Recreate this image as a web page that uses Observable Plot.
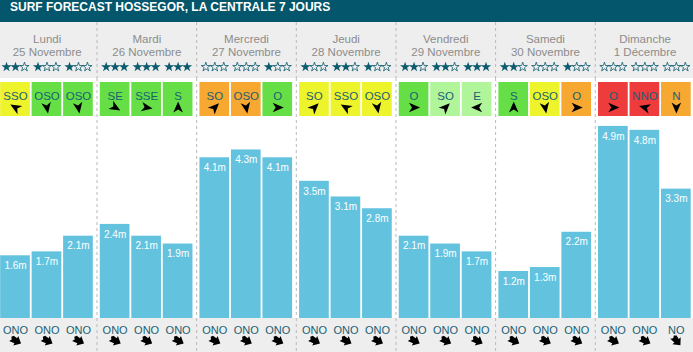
<!DOCTYPE html>
<html>
<head>
<meta charset="utf-8">
<script src="https://cdn.jsdelivr.net/npm/d3@7"></script>
<script src="https://cdn.jsdelivr.net/npm/@observablehq/plot@0.6"></script>
<style>
  html, body { margin: 0; padding: 0; background: #eeeeee; }
  #title { height: 22px; line-height: 22px; background: #03566b; color: #fff;
           font: bold 12px "Liberation Sans", Arial, sans-serif; padding-left: 10px; box-sizing: border-box; width: 693px; }
  #chart svg { display: block; }
</style>
</head>
<body>
<div id="title">SURF FORECAST HOSSEGOR, LA CENTRALE 7 JOURS</div>
<div id="chart"></div>
<script>
// ---- data ----
const days = ["Lundi", "Mardi", "Mercredi", "Jeudi", "Vendredi", "Samedi", "Dimanche"];
const dates = ["25 Novembre", "26 Novembre", "27 Novembre", "28 Novembre", "29 Novembre", "30 Novembre", "1 Décembre"];
const waveHeights = [1.6, 1.7, 2.1, 2.4, 2.1, 1.9, 4.1, 4.3, 4.1, 3.5, 3.1, 2.8, 2.1, 1.9, 1.7, 1.2, 1.3, 2.2, 4.9, 4.8, 3.3];
const starRatings = [2, 1, 1, 3, 3, 3, 0, 0, 1, 1, 2, 1, 2, 2, 3, 2, 0, 1, 0, 0, 0];
const windDirs = ["SSO", "OSO", "OSO", "SE", "SSE", "S", "SO", "OSO", "O", "SO", "SSO", "OSO", "O", "SO", "E", "S", "OSO", "O", "O", "NNO", "N"];
const windArrowAngles = [300, 170, 170, 120, 100, 0, 45, 170, 90, 45, 300, 170, 90, 45, 270, 0, 170, 90, 90, 285, 180];
const windQuality = ["moyen", "bon", "bon", "bon", "bon", "bon", "mauvais", "mauvais", "bon", "moyen", "moyen", "moyen", "bon", "excellent", "excellent", "bon", "moyen", "mauvais", "très mauvais", "très mauvais", "mauvais"];
const qualityLevels = ["excellent", "bon", "moyen", "mauvais", "très mauvais"];
const qualityColors = ["#b1f59b", "#66df46", "#eef42b", "#f6a831", "#ee3b3b"];
const swellDirs = ["ONO", "ONO", "ONO", "ONO", "ONO", "ONO", "ONO", "ONO", "ONO", "ONO", "ONO", "ONO", "ONO", "ONO", "ONO", "ONO", "ONO", "ONO", "ONO", "ONO", "NO"];
const swellArrowAngles = [118, 118, 118, 118, 118, 118, 118, 118, 118, 118, 118, 118, 118, 118, 118, 118, 118, 118, 118, 118, 140];

// ---- layout helpers (in day units) ----
const PAD = 0.033, STEP = 0.316, BARW = 0.298, STAR_STEP = 0.09;
const slots = waveHeights.map((h, i) => {
  const day = Math.floor(i / 3), k = i % 3;
  const x1 = day + PAD + k * STEP;
  return {i, day, k, h, x1, x2: x1 + BARW, xc: x1 + BARW / 2,
    rating: starRatings[i],
    wind: windDirs[i], windAngle: windArrowAngles[i], quality: windQuality[i],
    swell: swellDirs[i], swellAngle: swellArrowAngles[i]};
});
const starItems = slots.flatMap(s => [0, 1, 2].map(j => ({x: s.xc + (j - 1) * STAR_STEP, filled: j < s.rating})));
const dividers = d3.range(1, days.length);
const dayIdx = d3.range(days.length);

const xScale = {type: "linear", domain: [0, 7], range: [-3.15, 694.4], axis: null};
const font = '"Liberation Sans", Arial, Helvetica, sans-serif';
const teal = "#0b5a6e";
const rule = () => Plot.ruleX(dividers, {stroke: "#b9b9b9", strokeDasharray: "3,3"});

const navArrow = {draw(ctx, size) {
  const r = Math.sqrt(size / Math.PI);
  ctx.moveTo(0, -r); ctx.lineTo(0.8 * r, 0.85 * r); ctx.lineTo(0, 0.35 * r); ctx.lineTo(-0.8 * r, 0.85 * r); ctx.closePath();
}};
const swellArrow = {draw(ctx, size) {
  const r = Math.sqrt(size / Math.PI);
  ctx.moveTo(0, -r); ctx.lineTo(0.85 * r, -0.05 * r); ctx.lineTo(0.45 * r, -0.05 * r);
  ctx.lineTo(0.55 * r, 0.85 * r); ctx.lineTo(0.15 * r, 0.6 * r); ctx.lineTo(-0.2 * r, 0.85 * r);
  ctx.lineTo(-0.55 * r, 0.6 * r); ctx.lineTo(-0.45 * r, -0.05 * r); ctx.lineTo(-0.85 * r, -0.05 * r); ctx.closePath();
}};

const common = {width: 693, marginTop: 0, marginBottom: 0, marginLeft: 0, marginRight: 0, x: xScale};

// header: days, dates, stars
const header = Plot.plot({
  ...common, height: 56,
  style: {background: "#eeeeee", fontFamily: font, overflow: "visible"},
  marks: [
    rule(),
    Plot.text(dayIdx, {x: i => i + 0.5, text: i => days[i], frameAnchor: "top", dy: 12, fill: "#8c8c8c", fontSize: 11.5}),
    Plot.text(dayIdx, {x: i => i + 0.5, text: i => dates[i], frameAnchor: "top", dy: 25, fill: "#8c8c8c", fontSize: 11.5}),
    Plot.dot(starItems.filter(s => s.filled), {x: "x", frameAnchor: "top", dy: 44.5, symbol: "star", r: 3.2, fill: teal, stroke: "none"}),
    Plot.dot(starItems.filter(s => !s.filled), {x: "x", frameAnchor: "top", dy: 44.5, symbol: "star", r: 2.9, fill: "none", stroke: teal, strokeWidth: 0.8})
  ]
});

// wind row
const wind = Plot.plot({
  ...common, height: 42,
  style: {background: "#ffffff", fontFamily: font, overflow: "visible"},
  color: {domain: qualityLevels, range: qualityColors},
  marks: [
    rule(),
    Plot.rect(slots, {x1: "x1", x2: "x2", fill: "quality", insetTop: 4, insetBottom: 4}),
    Plot.text(slots, {x: "xc", text: "wind", frameAnchor: "top", dy: 13, fill: "#1a5f73", fontSize: 11.5}),
    Plot.dot(slots, {x: "xc", frameAnchor: "top", dy: 29, symbol: navArrow, r: 6, rotate: "windAngle", fill: "#000", stroke: "none"})
  ]
});

// bars
const bars = Plot.plot({
  ...common, height: 198,
  style: {background: "#ffffff", fontFamily: font, overflow: "visible"},
  y: {domain: [0, 5], range: [198, 2], axis: null},
  marks: [
    rule(),
    Plot.rect(slots, {x1: "x1", x2: "x2", y1: 0, y2: "h", fill: "#63c3df"}),
    Plot.text(slots, {x: "xc", y: "h", text: d => d.h.toFixed(1) + "m", dy: 10, fill: "#ffffff", fontSize: 10})
  ]
});

// swell row
const swell = Plot.plot({
  ...common, height: 34,
  style: {background: "#eeeeee", fontFamily: font, overflow: "visible"},
  marks: [
    rule(),
    Plot.text(slots, {x: "xc", text: "swell", frameAnchor: "top", dy: 8, fill: "#1a5f73", fontSize: 11}),
    Plot.dot(slots, {x: "xc", frameAnchor: "top", dy: 22, symbol: swellArrow, r: 6.3, rotate: "swellAngle", fill: "#000", stroke: "none"})
  ]
});

const chart = document.getElementById("chart");
[header, wind, bars, swell].forEach(p => chart.appendChild(p));
</script>
</body>
</html>
